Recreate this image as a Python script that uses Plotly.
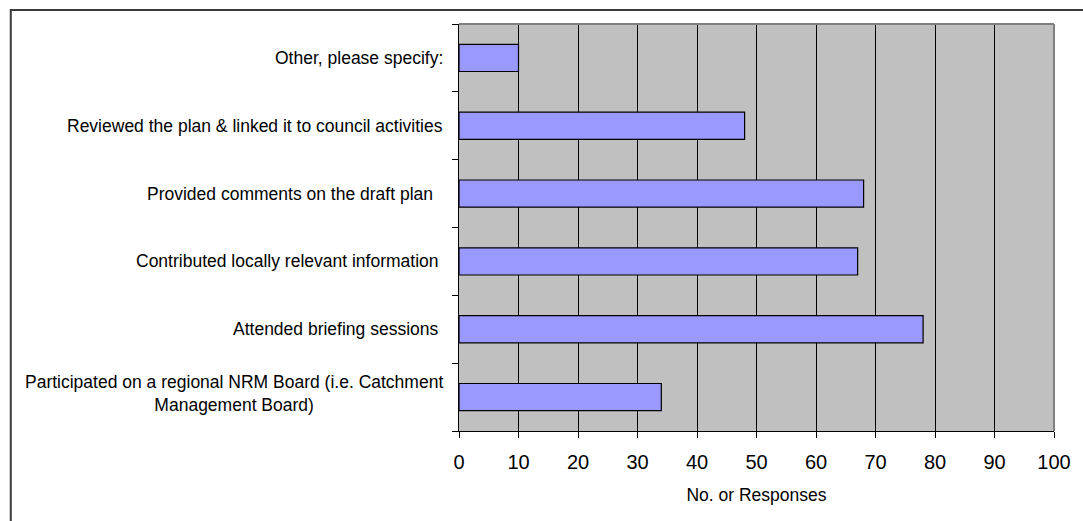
import plotly.graph_objects as go

categories = [
    "Participated on a regional NRM Board (i.e. Catchment<br>Management Board)",
    "Attended briefing sessions\u00a0",
    "Contributed locally relevant information\u00a0",
    "Provided comments on the draft plan\u00a0\u00a0",
    "Reviewed the plan & linked it to council activities",
    "Other, please specify:",
]
values = [34, 78, 67, 68, 48, 10]
x_ticks = [0, 10, 20, 30, 40, 50, 60, 70, 80, 90, 100]
x_title = "No. or Responses"

W, H = 1083, 521
ML, MR, MT, MB = 459, 24, 24, 90
PW, PH = W - ML - MR, H - MT - MB

FONT = "Liberation Sans, Arial, sans-serif"

fig = go.Figure()
fig.add_trace(go.Bar(
    x=values, y=list(range(len(categories))), orientation="h",
    marker=dict(color="#9999FF", line=dict(color="#000000", width=1.2)),
    width=0.4, hoverinfo="x",
))

annotations = []
for i, c in enumerate(categories):
    annotations.append(dict(
        x=0, xref="paper", xanchor="right", xshift=-14,
        y=i, yref="y", yanchor="middle", yshift=4 if "<br>" in c else 0,
        text=c, showarrow=False, align="center",
        font=dict(family=FONT, size=17.5, color="#000000"),
    ))

shapes = [
    # outer chart border
    dict(type="rect", xref="paper", yref="paper",
         x0=(7 - ML) / PW, x1=(W + 20 - ML) / PW,
         y0=-(H + 20 - MT - PH) / PH, y1=1 + (MT - 10) / PH,
         line=dict(color="#3a3a3a", width=2), layer="above"),
    # gray plot-area border (top and right)
    dict(type="line", xref="paper", yref="paper", x0=0, x1=1, y0=1, y1=1,
         line=dict(color="#808080", width=2), layer="above"),
    dict(type="line", xref="paper", yref="paper", x0=1, x1=1, y0=0, y1=1,
         line=dict(color="#808080", width=2), layer="above"),
]

fig.update_layout(
    width=W, height=H,
    margin=dict(l=ML, r=MR, t=MT, b=MB, pad=0),
    paper_bgcolor="#FFFFFF", plot_bgcolor="#C0C0C0",
    showlegend=False,
    font=dict(family=FONT, color="#000000"),
    annotations=annotations, shapes=shapes,
    xaxis=dict(
        range=[0, 100], tickvals=x_ticks, ticktext=[str(v) for v in x_ticks],
        showgrid=True, gridcolor="#000000", gridwidth=1,
        zeroline=False, showline=True, linecolor="#000000", linewidth=1,
        ticks="outside", ticklen=6, tickcolor="#000000", tickwidth=1,
        ticklabelstandoff=7,
        tickfont=dict(family=FONT, size=20, color="#000000"),
        title=dict(text=x_title, font=dict(family=FONT, size=17.5, color="#000000"), standoff=16),
    ),
    yaxis=dict(
        range=[-0.5, len(categories) - 0.5],
        tickvals=[i - 0.5 for i in range(len(categories) + 1)],
        ticktext=["" for _ in range(len(categories) + 1)],
        showgrid=False, zeroline=False,
        showline=True, linecolor="#000000", linewidth=1,
        ticks="outside", ticklen=6, tickcolor="#000000", tickwidth=1,
    ),
)

fig.write_html(
    "out.html",
    config={"displayModeBar": False},
    post_script="document.body.style.margin='0';document.body.style.padding='0';",
)
